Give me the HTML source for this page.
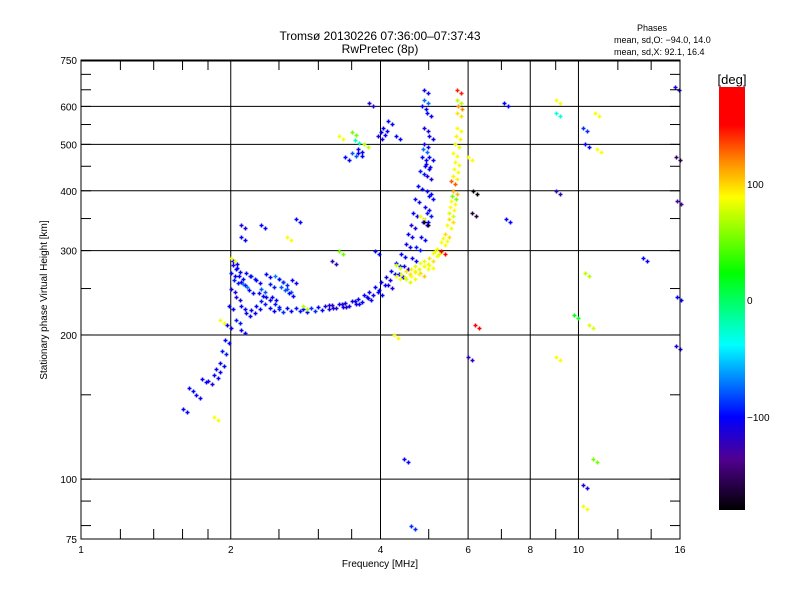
<!DOCTYPE html>
<html><head><meta charset="utf-8"><style>
body{margin:0;background:#fff}
svg text{font-family:"Liberation Sans",sans-serif;fill:#000}
</style></head><body>
<svg id="c" width="800" height="600" xmlns="http://www.w3.org/2000/svg">
<defs><linearGradient id="cg" x1="0" y1="0" x2="0" y2="1">
<stop offset="0" stop-color="#ff0000"/><stop offset="0.09" stop-color="#ff0000"/><stop offset="0.18" stop-color="#ff9000"/>
<stop offset="0.26" stop-color="#ffff00"/><stop offset="0.44" stop-color="#00ff00"/><stop offset="0.61" stop-color="#00ffff"/>
<stop offset="0.78" stop-color="#0000ff"/><stop offset="0.88" stop-color="#500090"/><stop offset="1" stop-color="#000000"/>
</linearGradient></defs>
<g id="grid"></g>
<g id="pts"></g>
<rect x="81" y="60" width="599" height="479" fill="none" stroke="#000" stroke-width="1"/>
<line x1="81" y1="60.5" x2="680" y2="60.5" stroke="#000" stroke-width="2"/>
<g id="ax"></g>
<text x="380" y="40" font-size="12" text-anchor="middle">Tromsø 20130226 07:36:00–07:37:43</text>
<text x="380" y="53" font-size="12" text-anchor="middle">RwPretec (8p)</text>
<text x="652" y="31" font-size="9" text-anchor="middle">Phases</text>
<text x="614" y="43" font-size="9">mean, sd,O: −94.0, 14.0</text>
<text x="614" y="55" font-size="9">mean, sd,X:  92.1, 16.4</text>
<text x="380" y="567" font-size="10" text-anchor="middle">Frequency [MHz]</text>
<text x="47" y="300" font-size="10" text-anchor="middle" transform="rotate(-90 47 300)">Stationary phase Virtual Height [km]</text>
<rect x="719" y="87" width="26" height="423" fill="url(#cg)"/>
<text x="732" y="84" font-size="13" text-anchor="middle">[deg]</text>
<text x="747" y="188" font-size="10">100</text>
<text x="747" y="304" font-size="10">0</text>
<text x="747" y="421" font-size="10">−100</text>
</svg>
<script>
const xTicks=[1,2,4,6,8,10,16];
const xTickLabels=["1","2","4","6","8","10","16"];
const xGrid=[2,4,6,8,10];
const yTicks=[75,100,200,300,400,500,600,750];
const yGrid=[100,200,300,400,500,600];
const oFreq=[1.65,1.7,1.75,1.8,1.85,1.87,1.9,1.92,1.95,1.97,1.98,2.0,2.0,2.02,2.05,2.03,2.08,2.1,2.05,2.1,2.05,2.1,2.15,2.2,2.25,2.3,2.35,2.4,2.45,2.5,2.55,2.6,2.65,2.3,2.4,2.5,2.6,2.2,2.15,2.7,2.8,2.9,3.0,3.1,3.2,3.3,3.4,3.5,3.6,3.7,3.8,3.9,4.0,4.1,4.2,4.3,4.4,4.5,4.55,4.6,4.65,4.7,4.75,4.8,4.85,4.9,4.9,4.95,4.9,4.85,5.0,5.0,4.95,5.0,4.95,4.9,4.0,3.95,4.05,3.8,3.4,3.5,3.6,2.1,2.1,2.3,2.02,2.12,2.18,2.28,2.42,2.52,2.62,2.35,2.45,2.25,3.15,3.35,3.55,3.75,3.95,4.15,4.35,4.45,4.62,4.72,4.82,4.88,4.92,4.97,4.93,4.87,4.15,4.9,4.92];
const oHeight=[155,150,162,160,165,170,175,185,195,210,230,250,270,280,275,260,265,258,240,230,215,205,270,265,260,250,268,255,265,262,258,250,260,235,228,227,228,225,222,228,227,228,229,230,231,232,233,235,238,242,246,252,258,264,272,282,295,310,325,340,360,385,410,440,470,500,540,580,620,600,520,470,430,390,360,350,530,520,540,610,470,480,490,340,320,340,285,255,248,245,240,252,245,240,232,230,231,232,236,240,246,254,268,278,290,305,320,345,370,400,455,490,560,650,450,555,380,420];
const oPhase=[-100,-105,-100,-110,-100,-105,-100,-95,-100,-105,-100,-110,-100,-105,-100,-95,-100,-105,-110,-100,-95,-105,-100,-95,-100,-80,-100,-95,-70,-100,-90,-80,-100,-95,-100,-90,-100,-105,-100,-95,-100,-90,-100,-110,-120,-100,-105,-110,-100,-100,-105,-100,-100,-110,-100,-95,-100,-105,-100,-110,-100,-105,-100,-95,-100,-105,-110,-100,-75,-100,-105,-100,-110,-100,-95,-100,-100,-110,-100,-115,-100,-80,-105,-110,-100,-100,-100,-70,-100,-105,-100,-80,-100,-105,-95,-100,-110,-120,-100,-105,-100,-110,-100,-105,-100,-95,-100,-100,-105,-100,-110,-75,-100,-105,-100,-100];
const xFreq=[4.3,4.4,4.5,4.6,4.7,4.8,4.9,5.0,5.1,5.2,5.3,5.4,5.45,5.5,5.55,5.6,5.6,5.65,5.65,5.7,5.7,5.7,5.55,4.6,4.8,5.0,4.5,4.7,4.9,5.15,5.35,5.5,5.58,5.62,5.68,5.72,5.6,5.52,5.7];
const xHeight=[265,268,272,275,278,282,285,290,296,303,312,325,340,360,380,400,430,460,500,540,580,620,420,265,270,280,262,272,278,300,318,350,390,445,520,600,480,370,650];
const xPhase=[100,95,110,105,90,100,95,110,100,95,100,110,100,90,100,120,105,100,95,100,110,80,140,100,115,100,90,105,100,95,100,110,60,100,105,130,100,100,150];
const sFreq=[1.85,2.6,2.7,3.3,3.5,3.55,3.7,3.6,3.9,4.25,4.3,4.45,4.6,6.0,6.15,6.2,7.1,7.15,9.0,9.0,9.0,9.0,10.2,10.3,10.3,10.5,10.7,10.9,10.8,13.5,15.6,15.7,15.8,15.8,15.7,4.8,4.9,5.3,6.0,6.1,3.3,2.0,1.6,1.9,2.8,3.2,10.2,10.2,9.8,4.3];
const sHeight=[135,320,350,520,530,510,500,480,300,200,520,110,80,180,400,210,610,350,620,580,400,180,540,500,270,210,110,490,580,290,660,470,380,240,190,355,345,300,470,360,300,290,140,215,230,285,97,88,220,280];
const sPhase=[100,100,-100,100,60,-20,80,-100,-100,100,-100,-100,-90,-120,-180,170,-100,-100,100,-30,-120,100,-90,-100,80,90,60,100,100,-100,-110,-150,-130,-100,-110,100,-170,160,100,-160,60,100,-100,100,80,-120,-110,100,20,90];
const X0=81,X1=680,Y0=539,Y1=60;
const xs=f=>X0+(X1-X0)*Math.log2(f)/4;
const ys=h=>Y0-(Y0-Y1)*Math.log10(h/75);
const NS="http://www.w3.org/2000/svg";
const stops=[[184,[255,0,0]],[155,[255,0,0]],[130,[255,144,0]],[102,[255,255,0]],[24,[0,255,0]],[-39,[0,255,255]],[-100,[0,0,255]],[-135,[80,0,144]],[-180,[0,0,0]]];
function col(p){p=Math.max(-180,Math.min(184,p));for(let i=0;i<stops.length-1;i++){const a=stops[i],b=stops[i+1];if(p<=a[0]&&p>=b[0]){const t=(a[0]-p)/(a[0]-b[0]);const c=a[1].map((v,k)=>Math.round(v+(b[1][k]-v)*t));return`rgb(${c})`;}}return"#000";}
function mk(tag,at,par){const e=document.createElementNS(NS,tag);for(const k in at)e.setAttribute(k,at[k]);par.appendChild(e);return e;}
const grid=document.getElementById('grid'),ax=document.getElementById('ax'),pts=document.getElementById('pts');
xGrid.forEach(f=>{const l=mk('line',{x1:xs(f),y1:Y1,x2:xs(f),y2:Y0,stroke:'#000'},grid);});
yGrid.forEach(h=>{const l=mk('line',{x1:X0,y1:ys(h),x2:X1,y2:ys(h),stroke:'#000'},grid);});
const xMinor=[1.2,1.4,1.6,1.8,2.5,3,3.5,5,7,9,12,14];
xMinor.forEach(f=>{mk('line',{x1:xs(f),y1:Y1,x2:xs(f),y2:Y1+10,stroke:'#000'},ax);mk('line',{x1:xs(f),y1:Y0,x2:xs(f),y2:Y0-10,stroke:'#000'},ax);});
const yMinor=[80,90,150,250,350,450,550,650,700];
yMinor.concat(yTicks).forEach(h=>{mk('line',{x1:X0,y1:ys(h),x2:X0+10,y2:ys(h),stroke:'#000'},ax);mk('line',{x1:X1,y1:ys(h),x2:X1-10,y2:ys(h),stroke:'#000'},ax);});
xTicks.forEach((f,i)=>{const t=mk('text',{x:xs(f),y:553,'font-size':10,'text-anchor':'middle'},ax);t.textContent=xTickLabels[i];});
yTicks.forEach(h=>{const t=mk('text',{x:77,y:ys(h)+4,'font-size':10,'text-anchor':'end'},ax);t.textContent=String(h);});
function plot(F,H,P,name){for(let i=0;i<F.length;i++){const x=Math.round(xs(F[i]))+0.5,y=Math.round(ys(H[i]))+0.5,c=col(P[i]);
const g=mk('path',{d:`M${x-2} ${y}h4M${x} ${y-2}v4`,stroke:c,'stroke-width':1.5,fill:'none'},pts);
const g2=mk('path',{d:`M${x+2} ${y+3}h4M${x+4} ${y+1}v4`,stroke:c,'stroke-width':1.5,fill:'none'},pts);}}
plot(oFreq,oHeight,oPhase,'o-mode-point');plot(xFreq,xHeight,xPhase,'x-mode-point');plot(sFreq,sHeight,sPhase,'scatter-point');
</script>
</body></html>
